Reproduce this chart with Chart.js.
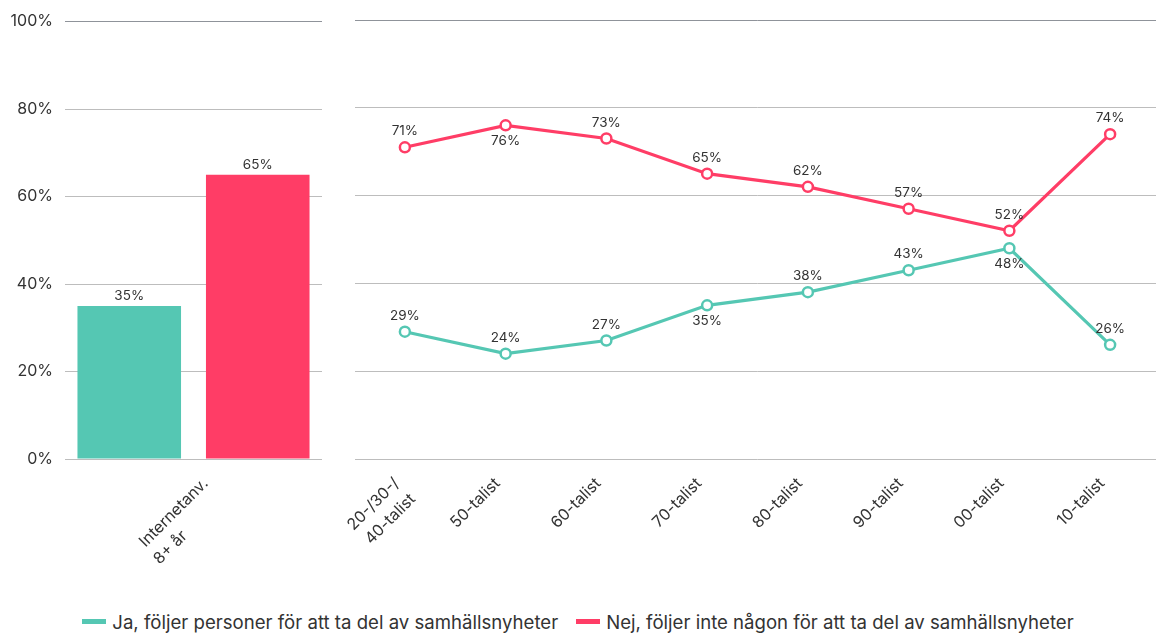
<!DOCTYPE html>
<html>
<head>
<meta charset="utf-8">
<script src="https://cdn.jsdelivr.net/npm/chart.js@4/dist/chart.umd.min.js"></script>
<style>
  body { margin: 0; background: #fff; font-family: Inter, sans-serif; overflow: hidden; }
  #wrap { position: relative; width: 1156px; height: 635px; overflow: hidden; }
  #left { position: absolute; left: 0; top: 0; width: 335px; height: 580px; }
  #right { position: absolute; left: 347px; top: 0; width: 821px; height: 580px; }
  #legend { position: absolute; left: 0; top: 611px; width: 1156px; display: flex; justify-content: center; gap: 18px; font-size: 18.6px; color: #333; }
  #legend span.sw { display: inline-block; width: 24px; height: 5px; margin-right: 6px; vertical-align: middle; position: relative; top: -2px; }
</style>
</head>
<body>
<div id="wrap">
  <div id="left"><canvas id="cLeft"></canvas></div>
  <div id="right"><canvas id="cRight"></canvas></div>
  <div id="legend"></div>
</div>
<script>
// --- data ---
const seriesNames = ['Ja, följer personer för att ta del av samhällsnyheter', 'Nej, följer inte någon för att ta del av samhällsnyheter'];
const seriesColors = ['#55c7b3', '#ff3d66'];

const totalCategories = [['Internetanv.', '8+ år']];
const jaTotal = [35];
const nejTotal = [65];

const cohortCategories = [['20-/30-/', '40-talist'], '50-talist', '60-talist', '70-talist', '80-talist', '90-talist', '00-talist', '10-talist'];
const jaCohort = [29, 24, 27, 35, 38, 43, 48, 26];
const nejCohort = [71, 76, 73, 65, 62, 57, 52, 74];

// which side of the point each value label sits on
const jaLabelSide = ['up', 'up', 'up', 'down', 'up', 'up', 'down', 'up'];
const nejLabelSide = ['up', 'down', 'up', 'up', 'up', 'up', 'up', 'up'];

const FONT = 'Inter, sans-serif';
const TEXT = '#333';

const valueLabels = {
  id: 'valueLabels',
  afterDatasetsDraw(chart) {
    const c = chart.ctx;
    c.save();
    c.font = '13.5px ' + FONT;
    c.fillStyle = TEXT;
    c.textAlign = 'center';
    c.textBaseline = 'middle';
    chart.data.datasets.forEach((ds, i) => {
      const meta = chart.getDatasetMeta(i);
      meta.data.forEach((el, j) => {
        let y = el.y - 10;
        if (chart.config.type === 'line') {
          y = ds.labelSide[j] === 'down' ? el.y + 16 : el.y - 16;
        }
        c.fillText(ds.data[j] + '%', el.x, y);
      });
    });
    c.restore();
  }
};

function gridColor(ctx) {
  return ctx.tick && ctx.tick.value === 100 ? '#8f939a' : '#bdbdbd';
}

function xAxis(extra) {
  return {
    grid: { display: false },
    border: { display: false },
    ticks: Object.assign({ color: TEXT, font: { family: FONT, size: 16, lineHeight: 1.4 }, minRotation: 45, maxRotation: 45, padding: 6 }, extra),
    afterFit(scale) { scale.height = 121; }
  };
}

new Chart(document.getElementById('cLeft'), {
  type: 'bar',
  data: {
    labels: totalCategories,
    datasets: [
      { label: seriesNames[0], data: jaTotal, backgroundColor: seriesColors[0] },
      { label: seriesNames[1], data: nejTotal, backgroundColor: seriesColors[1] }
    ]
  },
  options: {
    responsive: true,
    maintainAspectRatio: false,
    animation: false,
    layout: { padding: { top: 20, right: 13, left: 0, bottom: 0 } },
    categoryPercentage: 1,
    barPercentage: 0.806,
    plugins: { legend: { display: false }, tooltip: { enabled: false } },
    scales: {
      // lines are right-aligned when rotated; pad the short one so it starts with the first
      x: xAxis({
        labelOffset: 12,
        callback(v) {
          const l = this.getLabelForValue(v);
          return Array.isArray(l) ? [l[0], l[1] + '\u2007'.repeat(5)] : l;
        }
      }),
      y: {
        min: 0, max: 100,
        border: { display: false },
        grid: { color: gridColor, drawTicks: false },
        ticks: { stepSize: 20, color: TEXT, padding: 12, font: { family: FONT, size: 16 }, callback: v => v + '%' },
        afterFit(scale) { scale.width = 65; }
      }
    }
  },
  plugins: [valueLabels]
});

new Chart(document.getElementById('cRight'), {
  type: 'line',
  data: {
    labels: cohortCategories,
    datasets: [
      { label: seriesNames[0], data: jaCohort, labelSide: jaLabelSide, borderColor: seriesColors[0] },
      { label: seriesNames[1], data: nejCohort, labelSide: nejLabelSide, borderColor: seriesColors[1] }
    ].map(d => Object.assign(d, {
      borderWidth: 3.2,
      pointRadius: 5,
      pointBorderWidth: 2.5,
      pointBackgroundColor: '#fff',
      pointBorderColor: d.borderColor,
      tension: 0
    }))
  },
  options: {
    responsive: true,
    maintainAspectRatio: false,
    animation: false,
    layout: { padding: { top: 20, right: 0, left: 0, bottom: 0 } },
    plugins: { legend: { display: false }, tooltip: { enabled: false } },
    scales: {
      x: Object.assign(xAxis({ labelOffset: -8 }), { offset: true }),
      y: {
        min: 0, max: 100,
        border: { display: false },
        grid: { color: gridColor, drawTicks: false },
        ticks: { stepSize: 20, display: false },
        afterFit(scale) { scale.width = 0; }
      }
    }
  },
  plugins: [valueLabels]
});

// legend shared by both panels
document.getElementById('legend').innerHTML = seriesNames.map((n, i) =>
  `<div><span class="sw" style="background:${seriesColors[i]}"></span>${n}</div>`).join('');
</script>
</body>
</html>
